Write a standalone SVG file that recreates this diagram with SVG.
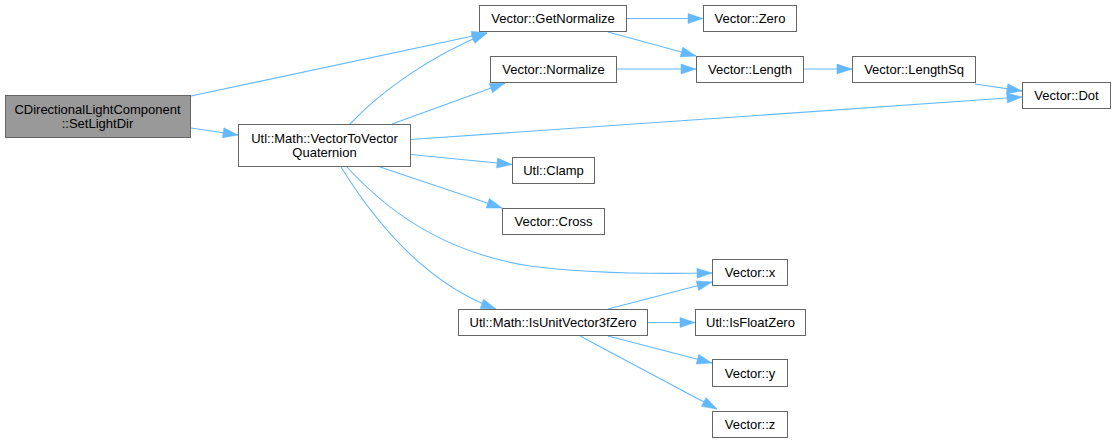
<svg xmlns="http://www.w3.org/2000/svg" width="1116" height="443" viewBox="0 0 1116 443">
<style>
.n rect{fill:#ffffff;stroke:#666666;stroke-width:1}
.n.root rect{fill:#999999}
.n text{font-family:"Liberation Sans",Arial,sans-serif;font-size:13px;fill:#000000;text-anchor:middle}
#edges path{fill:none;stroke:#63b8ff;stroke-width:1.1;marker-end:url(#ah)}
</style>
<defs>
<marker id="ah" markerUnits="userSpaceOnUse" markerWidth="17" markerHeight="12" viewBox="-16 -6 17 12" refX="0" refY="0" orient="auto">
<path d="M-15,-5 L0,0 L-15,5 Z" fill="#63b8ff" stroke="#63b8ff" stroke-width="0.5"/>
</marker>
</defs>
<rect width="1116" height="443" fill="#ffffff"/>
<g id="edges">
<path d="M191,96 L487,33"/>
<path d="M191,128 L238,135"/>
<path d="M350,124 C380,92 430,56 487,33"/>
<path d="M392,124 L505,83"/>
<path d="M411,139.5 L1022,97"/>
<path d="M411,154.5 L512,164.5"/>
<path d="M380,167 L502,208"/>
<path d="M347,167 C400,225 460,255 530,266 C590,274 660,274 712,273"/>
<path d="M341,167 C380,230 430,285 496,309"/>
<path d="M626,18.5 L703,18.5"/>
<path d="M608,32 L696,56"/>
<path d="M616,69 L696,69"/>
<path d="M803,69 L852,69"/>
<path d="M975,84 L1022,91"/>
<path d="M608,309 L712,282"/>
<path d="M647,322.5 L695,322.5"/>
<path d="M608,336 L712,363"/>
<path d="M580,336 L717,409"/>
</g>
<g id="n_setlightdir" class="n root"><rect x="5.5" y="95.5" width="185" height="42"/><text x="97.5" y="113.5">CDirectionalLightComponent</text><text x="97.5" y="127.5">::SetLightDir</text></g>
<g id="n_vectortovector" class="n"><rect x="238.5" y="124.5" width="172" height="42"/><text x="324.5" y="142.5">Utl::Math::VectorToVector</text><text x="324.5" y="157">Quaternion</text></g>
<g id="n_getnormalize" class="n"><rect x="479.5" y="5.5" width="147" height="26"/><text x="553" y="23">Vector::GetNormalize</text></g>
<g id="n_zero" class="n"><rect x="703.5" y="5.5" width="93" height="26"/><text x="750" y="23">Vector::Zero</text></g>
<g id="n_normalize" class="n"><rect x="490.5" y="56.5" width="126" height="26"/><text x="553.5" y="74">Vector::Normalize</text></g>
<g id="n_length" class="n"><rect x="696.5" y="56.5" width="107" height="26"/><text x="750" y="74">Vector::Length</text></g>
<g id="n_lengthsq" class="n"><rect x="852.5" y="56.5" width="123" height="26"/><text x="914" y="74">Vector::LengthSq</text></g>
<g id="n_dot" class="n"><rect x="1022.5" y="82.5" width="88" height="26"/><text x="1066.5" y="100">Vector::Dot</text></g>
<g id="n_clamp" class="n"><rect x="512.5" y="157.5" width="82" height="26"/><text x="553.5" y="175">Utl::Clamp</text></g>
<g id="n_cross" class="n"><rect x="502.5" y="208.5" width="102" height="26"/><text x="553.5" y="226">Vector::Cross</text></g>
<g id="n_x" class="n"><rect x="712.5" y="259.5" width="75" height="26"/><text x="750" y="277">Vector::x</text></g>
<g id="n_isunit" class="n"><rect x="458.5" y="309.5" width="189" height="26"/><text x="553" y="327">Utl::Math::IsUnitVector3fZero</text></g>
<g id="n_isfloatzero" class="n"><rect x="695.5" y="309.5" width="110" height="26"/><text x="750.5" y="327">Utl::IsFloatZero</text></g>
<g id="n_y" class="n"><rect x="712.5" y="359.5" width="75" height="27"/><text x="750" y="377.5">Vector::y</text></g>
<g id="n_z" class="n"><rect x="712.5" y="411.5" width="75" height="26"/><text x="750" y="429">Vector::z</text></g>
</svg>
